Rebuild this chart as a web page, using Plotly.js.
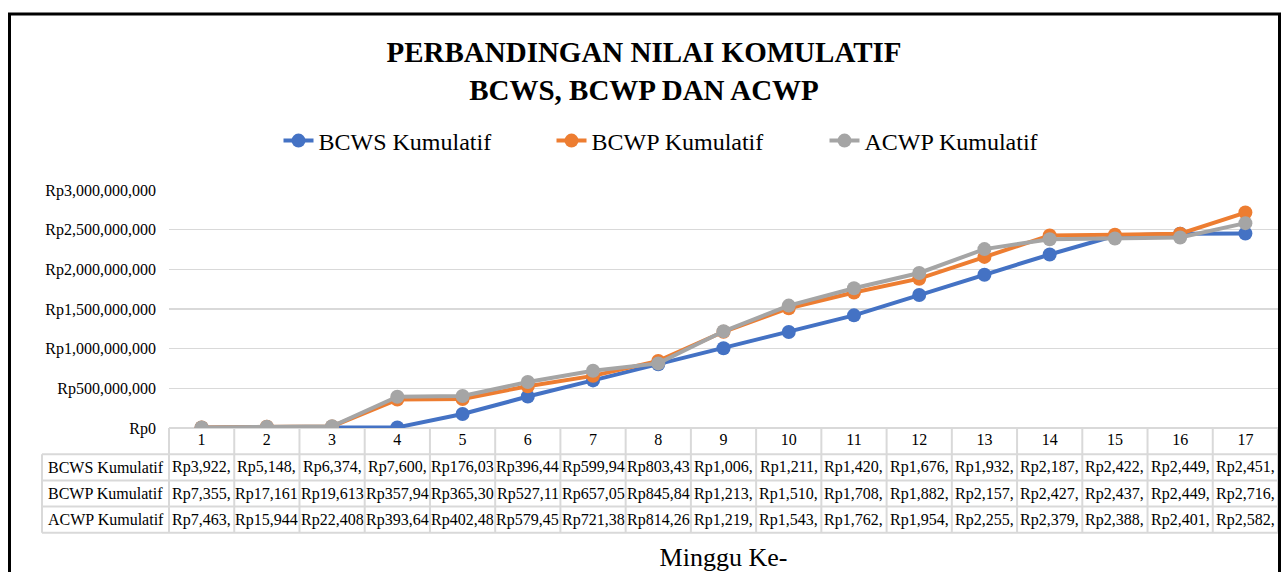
<!DOCTYPE html>
<html><head><meta charset="utf-8">
<script src="https://cdn.plot.ly/plotly-3.0.1.min.js"></script>
<style>html,body{margin:0;padding:0;background:#fff}#chart{width:1282px;height:572px}</style>
</head><body><div id="chart"></div>
<script>
// ---- data ----
const weeks = [1,2,3,4,5,6,7,8,9,10,11,12,13,14,15,16,17];
const seriesNames = ['BCWS Kumulatif','BCWP Kumulatif','ACWP Kumulatif'];
const bcws = [3922000, 5148000, 6374000, 7600000, 176030000, 396440000, 599940000, 803430000, 1006000000, 1211000000, 1420000000, 1676000000, 1932000000, 2187000000, 2422000000, 2449000000, 2451000000];
const bcwp = [7355000, 17161000, 19613000, 357940000, 365300000, 527110000, 657050000, 845840000, 1213000000, 1510000000, 1708000000, 1882000000, 2157000000, 2427000000, 2437000000, 2449000000, 2716000000];
const acwp = [7463000, 15944000, 22408000, 393640000, 402480000, 579450000, 721380000, 814260000, 1219000000, 1543000000, 1762000000, 1954000000, 2255000000, 2379000000, 2388000000, 2401000000, 2582000000];
const titleText = 'PERBANDINGAN NILAI KOMULATIF<br>BCWS, BCWP DAN ACWP';
const xTitle = 'Minggu Ke-';
const yTicks = [0, 500000000, 1000000000, 1500000000, 2000000000, 2500000000, 3000000000];

// ---- layout helpers ----
const series = [bcws, bcwp, acwp];
const colors = ['#4472C4', '#ED7D31', '#A5A5A5'];
const FONT = 'Liberation Serif, Times New Roman, serif';
const W = 1282, H = 572, ML = 169, MR = 4, MT = 190, MB = 144;
const PW = W - ML - MR, PH = H - MT - MB;
const BASE = H - MB;
const px2x = p => (p - ML) / PW;
const py2y = p => (BASE - p) / PH;
const rowH = 26.2;
const labelLeft = 42;
const gridC = '#d9d9d9';
const money = v => 'Rp' + v.toLocaleString('en-US');
const fmt = v => money(v).slice(0, 8);

const traces = series.map((vals, s) => ({
  type: 'scatter', mode: 'lines+markers', x: weeks, y: vals, name: seriesNames[s],
  line: {color: colors[s], width: 4},
  marker: {color: colors[s], size: 14, symbol: 'circle'},
  hoverinfo: 'x+y+name'
}));

const shapes = [];
const line = (x0, y0, x1, y1) => shapes.push({type: 'line', xref: 'paper', yref: 'paper', x0, y0, x1, y1, layer: 'below', line: {color: gridC, width: 2}});
for (let k = 0; k <= 4; k++) {
  line(k === 0 ? 0 : px2x(labelLeft), py2y(BASE + k * rowH), 1, py2y(BASE + k * rowH));
}
for (let j = 0; j <= weeks.length; j++) {
  line(j / weeks.length, py2y(BASE), j / weeks.length, py2y(BASE + 4 * rowH));
}
line(px2x(labelLeft), py2y(BASE + rowH), px2x(labelLeft), py2y(BASE + 4 * rowH));
// chart border
shapes.push({type: 'rect', xref: 'paper', yref: 'paper', x0: px2x(9.5), x1: px2x(1279.5), y0: py2y(14), y1: py2y(620), line: {color: '#000', width: 3}, layer: 'above'});

const annotations = [];
series.forEach((vals, s) => {
  const yc = py2y(BASE + rowH * (s + 1.5));
  annotations.push({xref: 'paper', yref: 'paper', x: px2x(labelLeft + 4), y: yc, xanchor: 'left', yanchor: 'middle', text: seriesNames[s], showarrow: false, font: {family: FONT, size: 16, color: '#000'}});
  vals.forEach((v, i) => {
    annotations.push({xref: 'x', yref: 'paper', x: weeks[i], y: yc, xanchor: 'center', yanchor: 'middle', text: fmt(v), showarrow: false, font: {family: FONT, size: 16, color: '#000'}});
  });
});

const layout = {
  width: W, height: H,
  margin: {l: ML, r: MR, t: MT, b: MB, pad: 0},
  paper_bgcolor: '#fff', plot_bgcolor: 'rgba(0,0,0,0)',
  font: {family: FONT, size: 16, color: '#000'},
  title: {text: titleText, xref: 'paper', x: px2x(644), xanchor: 'center', yref: 'container', y: 1 - 62 / H, yanchor: 'middle', font: {family: FONT, size: 29, color: '#000', weight: 'bold'}},
  showlegend: true,
  legend: {orientation: 'h', x: px2x(688), xanchor: 'center', y: py2y(141), yanchor: 'middle', entrywidth: 228, entrywidthmode: 'pixels', font: {family: FONT, size: 24, color: '#000'}, bgcolor: 'rgba(0,0,0,0)', traceorder: 'normal'},
  xaxis: {range: [0.5, 17.5], tickvals: weeks, ticktext: weeks.map(String), showgrid: false, zeroline: false, showline: false, ticks: '', fixedrange: true,
    tickfont: {family: FONT, size: 16, color: '#000'}, ticklabelstandoff: 0,
    title: {text: xTitle, standoff: 102, font: {family: FONT, size: 26, color: '#000'}}},
  yaxis: {range: [0, 3000000000], tickvals: yTicks, ticktext: yTicks.map(money), showgrid: true, gridcolor: gridC, gridwidth: 1.5, zeroline: false, showline: false, ticks: '', fixedrange: true,
    tickfont: {family: FONT, size: 16, color: '#000'}, ticklabelstandoff: 12},
  shapes, annotations
};
Plotly.newPlot('chart', traces, layout, {displayModeBar: false, staticPlot: true});
</script>
</body></html>
